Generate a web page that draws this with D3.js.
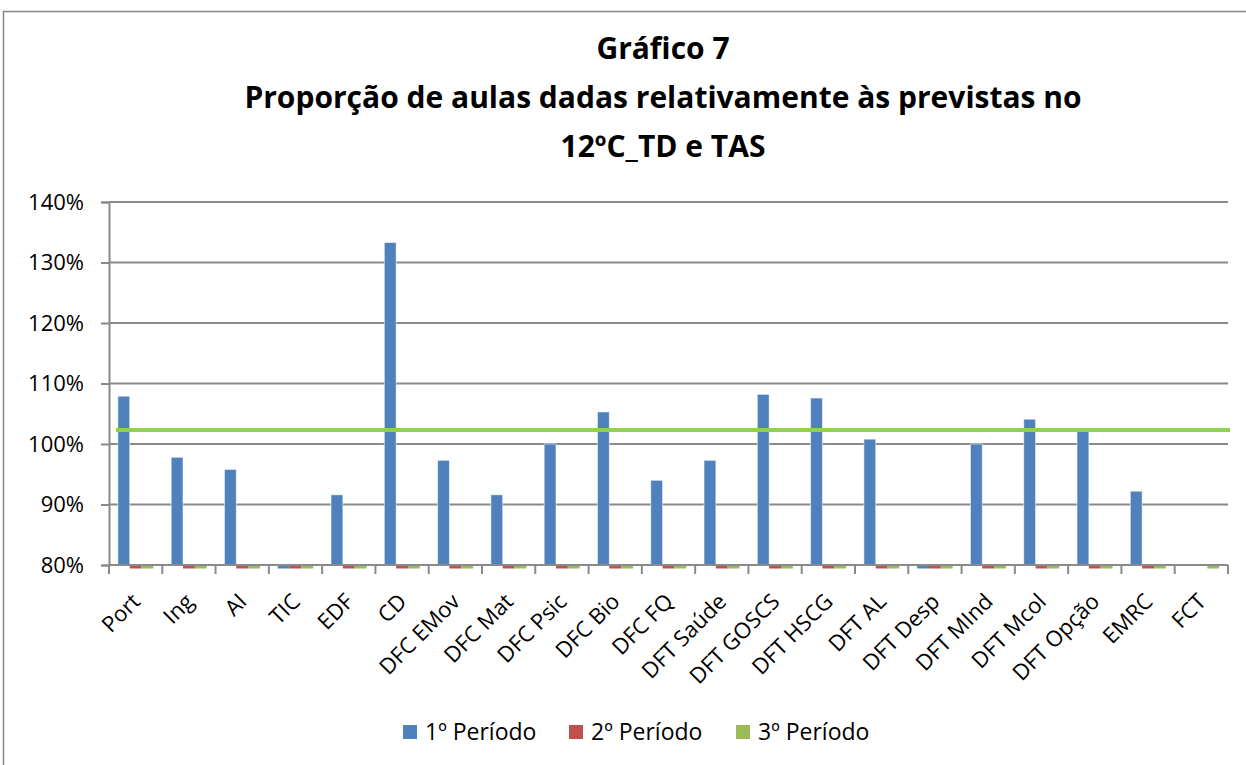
<!DOCTYPE html>
<html>
<head>
<meta charset="utf-8">
<script src="https://cdnjs.cloudflare.com/ajax/libs/d3/7.8.5/d3.min.js"></script>
<style>
  html, body { margin: 0; padding: 0; background: #fff; }
  svg { display: block; font-family: 'Open Sans', sans-serif; }
</style>
</head>
<body>
<div id="chart"></div>
<script>
// ---- data ----
const titleLines = ['Gráfico 7', 'Proporção de aulas dadas relativamente às previstas no', '12ºC_TD e TAS'];
const categories = ['Port', 'Ing', 'AI', 'TIC', 'EDF', 'CD', 'DFC EMov', 'DFC Mat', 'DFC Psic', 'DFC Bio',
  'DFC FQ', 'DFT Saúde', 'DFT GOSCS', 'DFT HSCG', 'DFT AL', 'DFT Desp', 'DFT MInd', 'DFT Mcol',
  'DFT Opção', 'EMRC', 'FCT'];
const periodo1 = [1.079, 0.978, 0.958, 0, 0.916, 1.333, 0.973, 0.916, 1.0, 1.053,
  0.940, 0.973, 1.082, 1.076, 1.008, 0, 1.0, 1.041, 1.024, 0.922, null];
const periodo2 = [0, 0, 0, 0, 0, 0, 0, 0, 0, 0, 0, 0, 0, 0, 0, 0, 0, 0, 0, 0, null];
const periodo3 = [0, 0, 0, 0, 0, 0, 0, 0, 0, 0, 0, 0, 0, 0, 0, 0, 0, 0, 0, 0, 0];
const seriesNames = ['1º Período', '2º Período', '3º Período'];
const seriesColors = ['#4F81BD', '#C0504D', '#9BBB59'];
const yTicks = [0.8, 0.9, 1.0, 1.1, 1.2, 1.3, 1.4];
const referenceLevel = 1.023;   // green horizontal line

const width = 1246, height = 765;
const margin = { top: 202, right: 18, bottom: 200, left: 109 };

const svg = d3.select('#chart').append('svg')
  .attr('width', width)
  .attr('height', height);

// outer chart border
svg.append('rect')
  .attr('x', 3.5).attr('y', 11.5)
  .attr('width', width + 10).attr('height', height + 10)
  .attr('fill', '#fff')
  .attr('stroke', '#868686')
  .attr('stroke-width', 1.5);

// title
svg.append('g').selectAll('text')
  .data(titleLines)
  .join('text')
  .attr('x', 663)
  .attr('y', (d, i) => 59 + i * 49)
  .attr('text-anchor', 'middle')
  .attr('font-weight', 'bold')
  .attr('font-size', 30)
  .attr('fill', '#000')
  .text(d => d);

const x = d3.scaleBand()
  .domain(categories)
  .range([margin.left, width - margin.right])
  .paddingInner(0).paddingOuter(0);

const xs = d3.scaleBand()
  .domain(seriesNames)
  .range([0, x.bandwidth()])
  .paddingInner(0).paddingOuter(0.75);

const y = d3.scaleLinear()
  .domain([0.8, 1.4])
  .range([height - margin.bottom, margin.top]);

const plotRight = width - margin.right;
const yBase = y(0.8);

// gridlines
svg.append('g').selectAll('line')
  .data(yTicks.slice(1))
  .join('line')
  .attr('x1', margin.left).attr('x2', plotRight)
  .attr('y1', d => y(d)).attr('y2', d => y(d))
  .attr('stroke', '#8a8a8a')
  .attr('stroke-width', 2);

// bars
const series = [periodo1, periodo2, periodo3].map((vals, s) => ({
  name: seriesNames[s], color: seriesColors[s], vals
}));

const barG = svg.append('g');
series.forEach(sr => {
  const pts = categories.map((c, i) => ({ c, v: sr.vals[i] })).filter(d => d.v !== null);
  barG.selectAll(null)
    .data(pts)
    .join('rect')
    .attr('x', d => x(d.c) + xs(sr.name))
    .attr('width', xs.bandwidth())
    .attr('y', d => d.v >= 0.8 ? y(d.v) : yBase + 1)
    .attr('height', d => d.v >= 0.8 ? yBase - y(d.v) : 2.5)
    .attr('fill', sr.color)
    .attr('stroke', d => d.v >= 0.8 ? 'rgba(255,255,255,0.55)' : 'none')
    .attr('stroke-width', 1);
});

// y axis
const yAxis = svg.append('g')
  .attr('transform', `translate(${margin.left},0)`)
  .call(d3.axisLeft(y).tickValues(yTicks).tickFormat(d3.format('.0%')).tickSize(8).tickPadding(17));
yAxis.select('.domain').attr('stroke', '#8a8a8a').attr('stroke-width', 2);
yAxis.selectAll('.tick line').attr('stroke', '#8a8a8a').attr('stroke-width', 2);
yAxis.selectAll('.tick text')
  .attr('font-family', "'Open Sans', sans-serif")
  .attr('font-size', 22)
  .attr('fill', '#000');

// x axis
const xAxis = svg.append('g')
  .attr('transform', `translate(0,${yBase})`);
xAxis.append('line')
  .attr('x1', margin.left).attr('x2', plotRight)
  .attr('stroke', '#8a8a8a').attr('stroke-width', 2);
xAxis.selectAll('line.tk')
  .data(categories.map(c => x(c)).concat([plotRight]))
  .join('line')
  .attr('class', 'tk')
  .attr('x1', d => d).attr('x2', d => d)
  .attr('y1', 0).attr('y2', 9)
  .attr('stroke', '#8a8a8a').attr('stroke-width', 2);
xAxis.selectAll('text')
  .data(categories)
  .join('text')
  .attr('transform', d => `translate(${x(d) + x.bandwidth() / 2 + 6},${38}) rotate(-45)`)
  .attr('text-anchor', 'end')
  .attr('font-size', 22)
  .attr('fill', '#000')
  .text(d => d);

// reference line (3º Período level)
svg.append('line')
  .attr('x1', margin.left + 7).attr('x2', plotRight + 2)
  .attr('y1', y(referenceLevel)).attr('y2', y(referenceLevel))
  .attr('stroke', '#92D050')
  .attr('stroke-width', 4);

// legend
const legendX = [403, 569, 736];
const legend = svg.append('g').selectAll('g')
  .data(series)
  .join('g')
  .attr('transform', (d, i) => `translate(${legendX[i]},725)`);
legend.append('rect')
  .attr('width', 14).attr('height', 14)
  .attr('fill', d => d.color);
legend.append('text')
  .attr('x', 22).attr('y', 15)
  .attr('font-size', 23)
  .attr('fill', '#000')
  .text(d => d.name);
</script>
</body>
</html>
